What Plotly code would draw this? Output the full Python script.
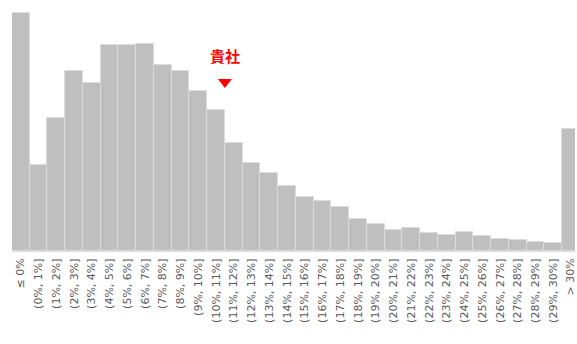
import plotly.graph_objects as go

# Histogram bins (ratio bands) and number of companies in each band
bins = ["≤ 0%"] + [f"({k}%, {k + 1}%]" for k in range(30)] + ["> 30%"]
counts = [119, 43, 66.5, 90, 84, 103, 103, 103.5, 93, 90,
          80, 70.5, 54, 44, 39, 32.5, 27, 25, 22, 16,
          13.5, 10.5, 11.5, 9, 8, 9.5, 7.5, 6, 5.5, 4.5,
          4, 61]

# Own company's ratio (%), marked above the distribution
company_label = "貴社"
company_value = 11.0

xs = list(range(len(bins)))
# bin (k-1%, k%] sits at index k, so k% is the right edge of that bar
company_x = company_value + 0.5

fig = go.Figure()
fig.add_trace(go.Bar(
    x=xs, y=counts,
    marker=dict(color="#bfbfbf", line=dict(color="#dcdcdc", width=1)),
    hoverinfo="skip",
))
fig.add_trace(go.Scatter(
    x=[company_x], y=[84.5], mode="markers",
    marker=dict(symbol="triangle-down", size=12, color="#ff0000", line=dict(width=0)),
    hoverinfo="skip",
))
fig.add_annotation(
    x=company_x, y=98, text=f"<b>{company_label}</b>", showarrow=False,
    font=dict(family="Noto Sans CJK JP", size=15, color="#ff0000"),
    xanchor="center", yanchor="middle",
)

fig.update_layout(
    width=577, height=344,
    margin=dict(l=12, r=0, t=12, b=93),
    paper_bgcolor="white", plot_bgcolor="white",
    bargap=0, showlegend=False,
    font=dict(family="DejaVu Sans", size=11, color="#595959"),
)
fig.update_xaxes(
    range=[-0.5, 31.23], tickmode="array", tickvals=xs, ticktext=bins,
    tickangle=-90, showgrid=False, zeroline=False,
    showline=True, linecolor="#d9d9d9", linewidth=1,
    ticks="", ticklabelstandoff=2, ticklabeloverflow="allow",
)
fig.update_yaxes(range=[0, 119.5], visible=False)

fig.write_html("out.html")
